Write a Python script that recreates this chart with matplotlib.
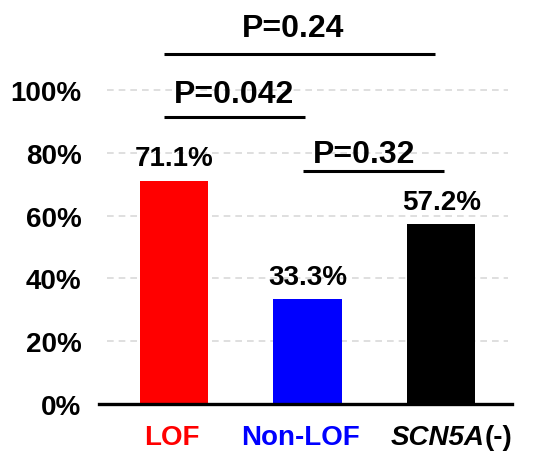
import matplotlib
matplotlib.use('Agg')
import matplotlib.pyplot as plt

plt.rcParams['font.family'] = ['Liberation Sans', 'DejaVu Sans']
plt.rcParams['font.weight'] = 'bold'

categories = ['LOF', 'Non-LOF', 'SCN5A']
cat_suffix = ['', '', '(-)']
cat_italic = [False, False, True]
values = [71.1, 33.3, 57.2]
bar_colors = ['#ff0000', '#0000ff', '#000000']
label_colors = ['#ff0000', '#0000ff', '#000000']
yticks = [0, 20, 40, 60, 80, 100]

# comparisons: (p text, x start, x end, line height, text x, text baseline)
p_labels = ['P=0.24', 'P=0.042', 'P=0.32']
p_x0 = [-0.075, -0.075, 0.963]
p_x1 = [1.955, 0.985, 2.02]
p_y = [111.5, 91.4, 74.2]
p_tx = [0.89, 0.45, 1.42]
p_ty = [117.2, 96.2, 77.1]

# x label anchor positions (left edge) in data units
label_x = [-0.22, 0.5, 1.62]

fig = plt.figure(figsize=(5.35, 4.52), dpi=100)
ax = fig.add_axes([0.185, 0.104, 0.772, 0.868])

x = range(len(categories))
ax.hlines(yticks[1:], -0.5, 2.5, colors='#d9d9d9', linestyles=(0, (4, 3)),
          linewidth=1.2, zorder=0)
ax.bar(x, values, width=0.51, color=bar_colors, zorder=2)

for i, v in enumerate(values):
    ax.text(i, v + 5, '{:.1f}%'.format(v), ha='center', va='baseline',
            fontsize=20, fontweight='bold')

for lab, a, b, y, tx, ty in zip(p_labels, p_x0, p_x1, p_y, p_tx, p_ty):
    ax.plot([a, b], [y, y], color='black', lw=2.2, solid_capstyle='butt')
    ax.text(tx, ty, lab, ha='center', va='baseline', fontsize=23,
            fontweight='bold')

# category labels drawn by hand (one has an italic gene name)
trans = ax.get_xaxis_transform()
for lx, name, suf, it, c in zip(label_x, categories, cat_suffix,
                                cat_italic, label_colors):
    t = ax.text(lx, -0.05, name, transform=trans, ha='left', va='top',
                fontsize=20, fontweight='bold', color=c,
                fontstyle='italic' if it else 'normal')
    if suf:
        ax.annotate(suf, xy=(1, 0), xycoords=t, ha='left', va='bottom',
                    fontsize=20, fontweight='bold', color=c)

ax.set_xlim(-0.56, 2.53)
ax.set_ylim(0, 125)
ax.set_yticks(yticks)
ax.set_yticklabels(['{}%'.format(t) for t in yticks], fontsize=20,
                   fontweight='bold')
ax.set_xticks([])

ax.tick_params(axis='both', length=0)
ax.tick_params(axis='y', pad=12.5)
for s in ['left', 'top', 'right']:
    ax.spines[s].set_visible(False)
ax.spines['bottom'].set_linewidth(2.4)

fig.savefig('out.png', dpi=100)
